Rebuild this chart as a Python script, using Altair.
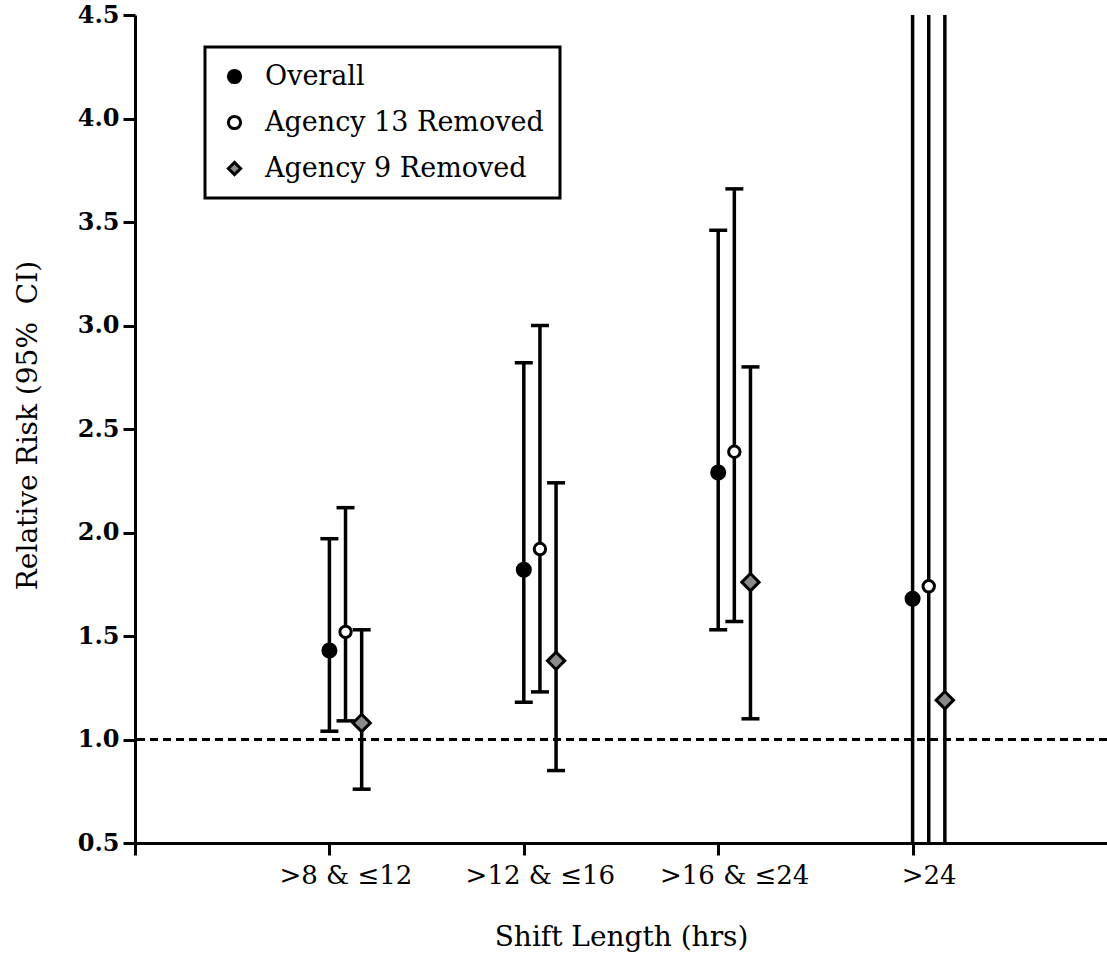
import json
import altair as alt
import pandas as pd

# ---------------- data ----------------
categories = [">8 & ≤12", ">12 & ≤16", ">16 & ≤24", ">24"]
series_names = ["Overall", "Agency 13 Removed", "Agency 9 Removed"]

overall_rr = [1.43, 1.82, 2.29, 1.68]
overall_lo = [1.04, 1.18, 1.53, 0.20]
overall_hi = [1.97, 2.82, 3.46, 12.0]

agency13_rr = [1.52, 1.92, 2.39, 1.74]
agency13_lo = [1.09, 1.23, 1.57, 0.20]
agency13_hi = [2.12, 3.00, 3.66, 12.0]

agency9_rr = [1.08, 1.38, 1.76, 1.19]
agency9_lo = [0.76, 0.85, 1.10, 0.20]
agency9_hi = [1.53, 2.24, 2.80, 12.0]

y_ticks = [0.5, 1.0, 1.5, 2.0, 2.5, 3.0, 3.5, 4.0, 4.5]
reference_value = [1.0]

rows = []
for si, (name, rr, lo, hi) in enumerate(zip(
        series_names,
        [overall_rr, agency13_rr, agency9_rr],
        [overall_lo, agency13_lo, agency9_lo],
        [overall_hi, agency13_hi, agency9_hi])):
    for gi, cat in enumerate(categories):
        rows.append(dict(category=cat, gi=gi, series=name, si=si,
                         rr=rr[gi], lo=lo[gi], hi=hi[gi]))
df = pd.DataFrame(rows)

FONT = "DejaVu Serif"
DIAMOND = "M-1,0L0,-1L1,0L0,1Z"

label_list = json.dumps([""] + categories)
x_scale = alt.Scale(domain=[0, 5], nice=False, zero=False)
x_axis = alt.Axis(values=[0, 1, 2, 3, 4], labelExpr=f"{label_list}[datum.value]",
                  labelOffset=16, labelPadding=7, labelFontSize=26,
                  titleY=102, titleBaseline="alphabetic", titleFontSize=28)
y_scale = alt.Scale(domain=[0.5, 4.5], nice=False, zero=False)
y_axis = alt.Axis(values=y_ticks, format=".1f", labelFontWeight="bold",
                  labelFontSize=24, labelPadding=4,
                  titleX=-99, titleY=410, titleAngle=270, titleAlign="center",
                  titleBaseline="alphabetic", titleFontSize=28)

X = alt.X("xpos:Q", scale=x_scale, axis=x_axis, title="Shift Length (hrs)")
Y_TITLE = "Relative Risk (95%\u00a0 CI)"

base = alt.Chart(df).transform_calculate(xpos="datum.gi + 1 + datum.si * 0.083")

ref = alt.Chart(pd.DataFrame({"v": reference_value})).mark_rule(
    strokeDash=[8, 5], strokeWidth=3, color="black"
).encode(y=alt.Y("v:Q", scale=y_scale, axis=y_axis, title=Y_TITLE))

rules = base.mark_rule(strokeWidth=3.5, color="black", clip=True).encode(
    x=X,
    y=alt.Y("lo:Q", scale=y_scale, axis=y_axis, title=Y_TITLE),
    y2="hi:Q",
)

caps = base.transform_fold(["lo", "hi"], as_=["end", "val"]).mark_tick(
    orient="horizontal", size=18, thickness=3.5, color="black", opacity=1,
    clip=True
).encode(
    x=X,
    y=alt.Y("val:Q", scale=y_scale, axis=y_axis, title=Y_TITLE),
)

legend = alt.Legend(
    title=None, orient="none", legendX=70, legendY=32,
    padding=16, rowPadding=18, labelOffset=17, labelLimit=500,
    labelFont=FONT, labelFontSize=27, labelColor="black",
    strokeColor="black", symbolStrokeColor="black", symbolStrokeWidth=3,
    symbolSize=150,
)

points = base.mark_point(filled=True, strokeWidth=3,
                         opacity=1, fillOpacity=1).encode(
    x=X,
    y=alt.Y("rr:Q", scale=y_scale, axis=y_axis, title=Y_TITLE),
    shape=alt.Shape("series:N", sort=series_names,
                    scale=alt.Scale(domain=series_names,
                                    range=["circle", "circle", DIAMOND]),
                    legend=legend),
    fill=alt.Fill("series:N", sort=series_names,
                  scale=alt.Scale(domain=series_names,
                                  range=["black", "white", "#8a8a8a"]),
                  legend=legend),
    stroke=alt.Stroke("series:N", sort=series_names,
                      scale=alt.Scale(domain=series_names,
                                      range=["black", "black", "black"]),
                      legend=legend),
    size=alt.Size("si:Q", scale=alt.Scale(domain=[0, 1, 2], zero=False,
                                          range=[170, 130, 300]),
                  legend=None),
)

chart = alt.layer(ref, rules, caps, points).properties(
    width=972, height=828,
    autosize=alt.AutoSizeParams(type="none"),
    padding={"left": 135, "top": 15, "right": 0, "bottom": 110},
    background="white",
).configure_view(stroke=None).configure_axis(
    grid=False, domainColor="black", domainWidth=3, tickColor="black",
    tickWidth=3, tickSize=12, labelFont=FONT, titleFont=FONT,
    labelColor="black", titleColor="black", titleFontWeight="normal",
).configure_legend(strokeWidth=3)

chart.save("out.html", embed_options={"renderer": "svg", "actions": False})
